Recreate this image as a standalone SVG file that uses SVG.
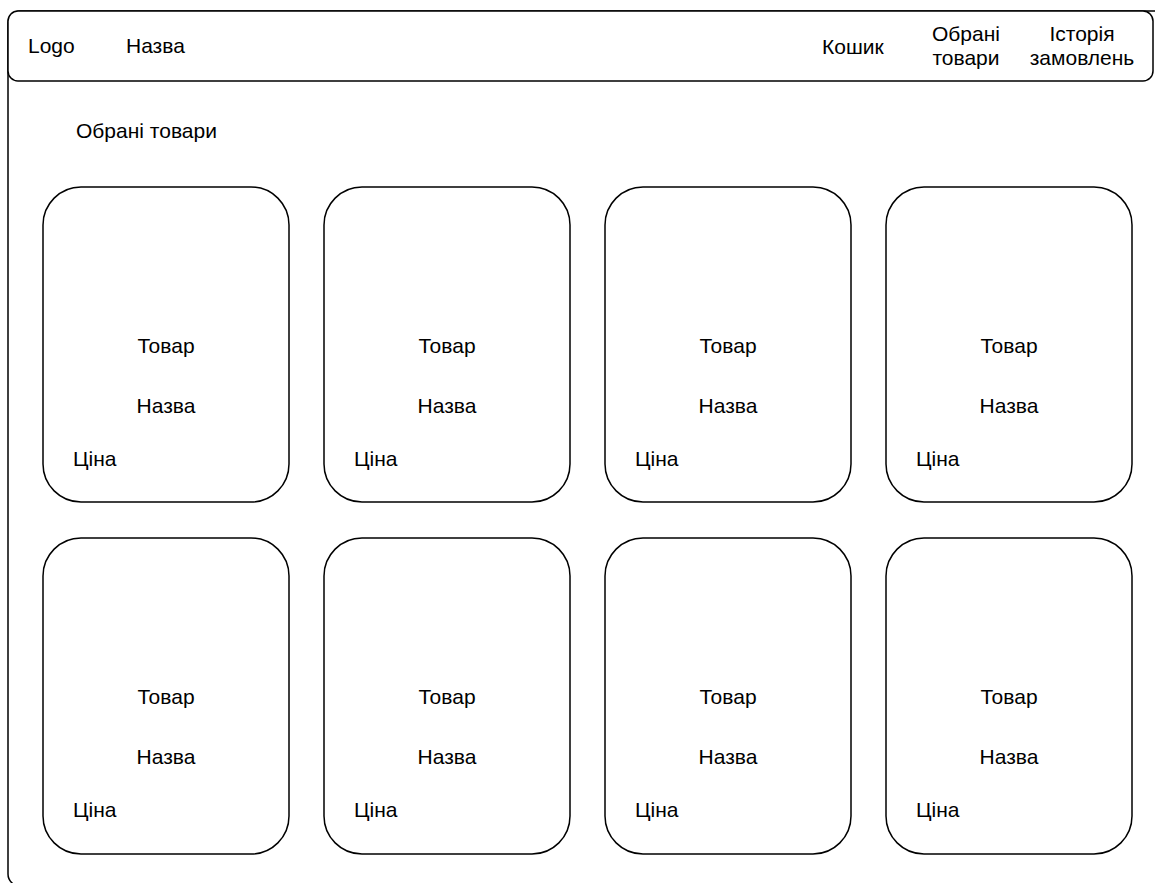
<svg xmlns="http://www.w3.org/2000/svg" width="1155" height="883" viewBox="0 0 1155 883">
<style>
.shape{fill:#fff;stroke:#000;stroke-width:1.5}
.card{fill:#fff;stroke:#000;stroke-width:1.5}
text{font-family:"Liberation Sans",Arial,sans-serif;font-size:21px;fill:#000}
.c{text-anchor:middle}
</style>
<rect width="1155" height="883" fill="#fff"/>
<g id="page">
<rect class="shape" x="8" y="11" width="1172" height="875" rx="12"/>
</g>
<g id="header">
<rect class="shape" x="8" y="11" width="1145" height="70" rx="10"/>
<text x="28" y="53">Logo</text>
<text x="126" y="53">Назва</text>
<text x="822" y="54">Кошик</text>
<text class="c" x="966" y="41">Обрані</text>
<text class="c" x="966" y="65">товари</text>
<text class="c" x="1082" y="41">Історія</text>
<text class="c" x="1082" y="65">замовлень</text>
</g>
<g id="title"><text x="76" y="138">Обрані товари</text></g>
<g id="card-1-1" transform="translate(43,187)"><rect class="card" width="246" height="315" rx="38"/><text class="c" x="123" y="166">Товар</text><text class="c" x="123" y="226">Назва</text><text x="30" y="279">Ціна</text></g>
<g id="card-1-2" transform="translate(324,187)"><rect class="card" width="246" height="315" rx="38"/><text class="c" x="123" y="166">Товар</text><text class="c" x="123" y="226">Назва</text><text x="30" y="279">Ціна</text></g>
<g id="card-1-3" transform="translate(605,187)"><rect class="card" width="246" height="315" rx="38"/><text class="c" x="123" y="166">Товар</text><text class="c" x="123" y="226">Назва</text><text x="30" y="279">Ціна</text></g>
<g id="card-1-4" transform="translate(886,187)"><rect class="card" width="246" height="315" rx="38"/><text class="c" x="123" y="166">Товар</text><text class="c" x="123" y="226">Назва</text><text x="30" y="279">Ціна</text></g>
<g id="card-2-1" transform="translate(43,538)"><rect class="card" width="246" height="316" rx="38"/><text class="c" x="123" y="166">Товар</text><text class="c" x="123" y="226">Назва</text><text x="30" y="279">Ціна</text></g>
<g id="card-2-2" transform="translate(324,538)"><rect class="card" width="246" height="316" rx="38"/><text class="c" x="123" y="166">Товар</text><text class="c" x="123" y="226">Назва</text><text x="30" y="279">Ціна</text></g>
<g id="card-2-3" transform="translate(605,538)"><rect class="card" width="246" height="316" rx="38"/><text class="c" x="123" y="166">Товар</text><text class="c" x="123" y="226">Назва</text><text x="30" y="279">Ціна</text></g>
<g id="card-2-4" transform="translate(886,538)"><rect class="card" width="246" height="316" rx="38"/><text class="c" x="123" y="166">Товар</text><text class="c" x="123" y="226">Назва</text><text x="30" y="279">Ціна</text></g>
<g id="connectors"></g>
</svg>
